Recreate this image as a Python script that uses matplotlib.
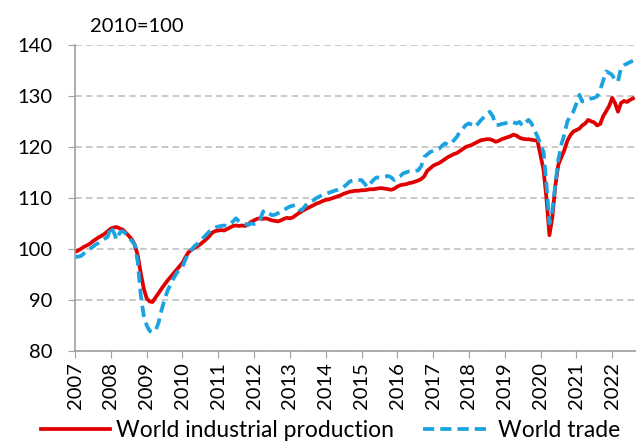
import pandas as pd
import matplotlib
matplotlib.use("Agg")
import matplotlib.pyplot as plt
import matplotlib.dates as mdates

plt.rcParams['font.family'] = ['Lato', 'DejaVu Sans']

months = pd.date_range("2007-01-01", periods=188, freq="MS")
years = list(range(2007, 2023))

# monthly index values, 2010=100
industrial_production = [
    99.4, 99.7, 100.0, 100.4, 100.7, 101.0, 101.5, 101.9, 102.3, 102.6, 103.0, 103.5,  # 2007
    104.0, 104.2, 104.3, 104.0, 103.8, 103.2, 102.6, 101.9, 100.8, 98.8, 95.3, 92.3,  # 2008
    90.3, 89.7, 89.6, 90.5, 91.3, 92.2, 93.0, 93.8, 94.5, 95.2, 95.9, 96.6,  # 2009
    97.3, 98.4, 99.3, 99.8, 100.2, 100.5, 100.9, 101.4, 101.9, 102.5, 103.2, 103.5,  # 2010
    103.6, 103.7, 103.6, 103.9, 104.2, 104.5, 104.6, 104.5, 104.6, 104.5, 104.8, 105.3,  # 2011
    105.6, 105.9, 106.0, 105.9, 106.0, 105.8, 105.6, 105.5, 105.4, 105.6, 105.9, 106.1,  # 2012
    106.0, 106.2, 106.6, 107.0, 107.4, 107.7, 108.0, 108.3, 108.6, 108.9, 109.1, 109.4,  # 2013
    109.6, 109.7, 109.9, 110.1, 110.3, 110.5, 110.8, 111.0, 111.2, 111.3, 111.4, 111.4,  # 2014
    111.5, 111.5, 111.6, 111.7, 111.7, 111.8, 111.9, 111.9, 111.8, 111.7, 111.6, 111.8,  # 2015
    112.2, 112.5, 112.6, 112.7, 112.9, 113.0, 113.2, 113.4, 113.7, 114.2, 115.3, 115.8,  # 2016
    116.3, 116.6, 116.8, 117.2, 117.6, 118.0, 118.3, 118.6, 118.8, 119.2, 119.6, 120.0,  # 2017
    120.2, 120.4, 120.7, 121.0, 121.3, 121.4, 121.5, 121.5, 121.3, 121.0, 121.2, 121.5,  # 2018
    121.7, 121.9, 122.1, 122.4, 122.2, 121.8, 121.6, 121.5, 121.5, 121.4, 121.3, 121.2,  # 2019
    118.3, 115.5, 110.0, 102.7, 106.3, 112.5, 116.5, 118.0, 119.4, 121.2, 122.3, 123.0,  # 2020
    123.3, 123.6, 124.2, 124.6, 125.3, 125.0, 124.8, 124.2, 124.5, 126.0, 127.0, 128.0,  # 2021
    129.6, 128.5, 126.9, 128.6, 129.0, 128.8, 129.2, 129.5,  # 2022
]

world_trade = [
    98.4, 98.5, 98.6, 99.1, 99.6, 100.0, 100.4, 100.9, 101.2, 101.6, 102.0, 102.4,  # 2007
    104.4, 103.2, 101.8, 103.2, 103.5, 103.0, 102.3, 101.6, 100.8, 97.5, 91.0, 87.0,  # 2008
    85.0, 83.9, 83.7, 84.0, 85.5, 88.0, 90.0, 91.8, 93.0, 94.2, 95.2, 96.0,  # 2009
    96.5, 98.0, 99.0, 99.8, 100.5, 101.0, 101.6, 102.2, 102.8, 103.4, 103.8, 104.2,  # 2010
    104.4, 104.5, 104.6, 104.5, 104.8, 105.4, 106.0, 105.4, 105.0, 104.9, 104.7, 105.0,  # 2011
    104.9, 105.0, 105.6, 107.3, 107.6, 107.0, 106.6, 106.7, 107.0, 107.4, 107.6, 108.0,  # 2012
    108.3, 108.5, 108.6, 107.8, 107.6, 108.3, 109.0, 109.3, 109.6, 110.0, 110.3, 110.6,  # 2013
    110.8, 111.0, 111.2, 111.4, 111.6, 111.9, 112.1, 112.6, 113.2, 113.4, 113.5, 113.5,  # 2014
    113.5, 112.8, 112.1, 112.8, 113.5, 114.0, 114.0, 114.1, 114.2, 114.3, 114.0, 113.5,  # 2015
    114.0, 114.3, 114.8, 115.0, 115.2, 115.2, 115.3, 115.4, 116.2, 118.0, 118.5, 119.0,  # 2016
    119.2, 119.4, 119.6, 120.2, 120.7, 120.4, 120.6, 121.3, 122.0, 123.0, 123.6, 124.3,  # 2017
    124.6, 124.3, 123.9, 124.5, 125.2, 125.8, 126.3, 126.9, 126.0, 124.3, 124.3, 124.5,  # 2018
    124.6, 124.8, 125.0, 124.8, 124.6, 124.9, 124.1, 124.8, 125.3, 124.6, 123.3, 122.0,  # 2019
    120.5, 119.0, 112.8, 105.0, 107.5, 112.8, 117.5, 120.5, 122.5, 125.0, 126.0, 126.9,  # 2020
    128.5, 130.2, 128.9, 129.0, 129.2, 129.5, 129.6, 129.9, 131.2, 133.0, 134.8, 134.5,  # 2021
    134.1, 133.0, 132.8, 135.5, 136.0, 136.3, 136.6, 136.9,  # 2022
]

fig = plt.figure(figsize=(6.36, 4.44), dpi=100)
ax = fig.add_axes([0.118, 0.2095, 0.882, 0.6895])

ax.plot(months, industrial_production, color='#e00000', lw=2.7,
        label='World industrial production', solid_joinstyle='round')
ax.plot(months, world_trade, color='#1aa3e0', lw=2.7, ls=(0, (3.0, 1.6)),
        label='World trade')

ax.set_ylim(80, 140)
ax.set_yticks(range(80, 141, 10))
ax.set_xlim(months[0], months[-1] + pd.DateOffset(months=1))
ax.set_xticks([pd.Timestamp(f"{y}-01-01") for y in years])
ax.xaxis.set_major_formatter(mdates.DateFormatter('%Y'))
ax.tick_params(axis='x', labelrotation=90, length=5, color='#a0a0a0', labelsize=14.5, pad=3)
ax.tick_params(axis='y', length=5, color='#a0a0a0', labelsize=14.5, pad=11)

ax.grid(axis='y', color='#c0c0c0', ls=(0, (4, 2.5)), lw=1.2)
ax.set_axisbelow(True)
for s in ['top', 'right']:
    ax.spines[s].set_visible(False)
for s in ['left', 'bottom']:
    ax.spines[s].set_color('#a0a0a0')
    ax.spines[s].set_linewidth(1.2)

fig.text(0.215, 0.94, '2010=100', fontsize=14.5, ha='center', va='center')

fig.legend(loc='center', bbox_to_anchor=(0.52, 0.03), ncol=2, frameon=False,
           fontsize=16.5, handlelength=3.0, handletextpad=0.26, columnspacing=1.3,
           borderpad=0.1)

fig.savefig('out.png', dpi=100)
